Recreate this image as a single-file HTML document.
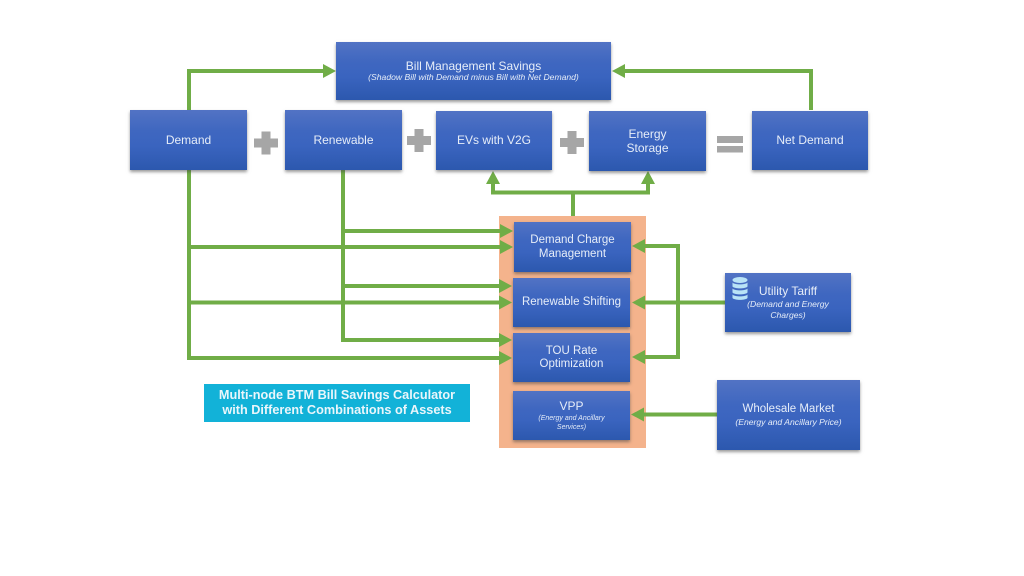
<!DOCTYPE html>
<html><head><meta charset="utf-8">
<style>
html,body{margin:0;padding:0;background:#fff;}
body{width:1024px;height:576px;overflow:hidden;position:relative;font-family:"Liberation Sans",sans-serif;}
.b{position:absolute;box-sizing:border-box;padding-top:1px;background:linear-gradient(180deg,#5273c4 0%,#3f67c0 35%,#3a64bf 60%,#2c58ae 100%);box-shadow:0 2px 3px rgba(70,70,70,.55);color:#e6edf8;text-align:center;display:flex;flex-direction:column;justify-content:center;align-items:center;font-size:12px;line-height:13.5px;}
.m{font-size:11.5px;}
.s{font-style:italic;font-size:8.6px;line-height:11px;}
svg{position:absolute;left:0;top:0;}
</style></head><body>
<div style="position:absolute;left:499px;top:216px;width:147px;height:232px;background:#f4b38c"></div>

<svg width="1024" height="576" viewBox="0 0 1024 576">
<g fill="none" stroke="#70ad47" stroke-width="4">
<path d="M189 110V71H328"/>
<path d="M811 110V71H620"/>
<path d="M189 170V358H505"/>
<path d="M189 247H505"/>
<path d="M189 302.500H505"/>
<path d="M343 170V340H505"/>
<path d="M343 231H505"/>
<path d="M343 286H505"/>
<path d="M573 216V192"/>
<path d="M493 180V192.500H648V180"/>
<path d="M640 246H678V357H640"/>
<path d="M725 302.500H640"/>
<path d="M717 414.500H640"/>
</g>
<g fill="#70ad47">
<path d="M336 71l-13-7v14z"/>
<path d="M612 71l13-7v14z"/>
<path d="M493 171l-7 13h14z"/>
<path d="M648 171l-7 13h14z"/>
<path d="M513 231l-13-7v14z"/>
<path d="M513 247l-13-7v14z"/>
<path d="M512 286l-13-7v14z"/>
<path d="M512 302.500l-13-7v14z"/>
<path d="M512 340l-13-7v14z"/>
<path d="M512 358l-13-7v14z"/>
<path d="M632 246l13-7v14z"/>
<path d="M632 302.500l13-7v14z"/>
<path d="M632 357l13-7v14z"/>
<path d="M631 414.500l13-7v14z"/>
</g>
<g fill="#a6a6a6">
<path d="M254 138.500h7.500v-7h9v7h7.500v9h-7.500v7h-9v-7h-7.500z"/>
<path d="M407 136h7.500v-7h9v7h7.500v9h-7.500v7h-9v-7h-7.500z"/>
<path d="M560 138h7.500v-7h9v7h7.500v9h-7.500v7h-9v-7h-7.500z"/>
<rect x="717" y="136" width="26" height="7"/>
<rect x="717" y="146" width="26" height="6.500"/>
</g>
</svg>

<div class="b" style="left:336px;top:42px;width:275px;height:58px;"><div>Bill Management Savings</div><div class="s" style="margin-top:-1px">(Shadow Bill with Demand minus Bill with Net Demand)</div></div>
<div class="b" style="left:130px;top:110px;width:117px;height:60px;">Demand</div>
<div class="b" style="left:285px;top:110px;width:117px;height:60px;">Renewable</div>
<div class="b" style="left:436px;top:111px;width:116px;height:59px;">EVs with V2G</div>
<div class="b" style="left:589px;top:111px;width:117px;height:60px;">Energy<br>Storage</div>
<div class="b" style="left:752px;top:111px;width:116px;height:59px;">Net Demand</div>
<div class="b m" style="left:514px;top:222px;width:117px;height:50px;">Demand Charge<br>Management</div>
<div class="b m" style="left:513px;top:278px;width:117px;height:49px;">Renewable Shifting</div>
<div class="b m" style="left:513px;top:333px;width:117px;height:49px;">TOU Rate<br>Optimization</div>
<div class="b" style="left:513px;top:391px;width:117px;height:49px;"><div>VPP</div><div class="s" style="font-size:7px;line-height:9px;">(Energy and Ancillary<br>Services)</div></div>
<div class="b" style="left:725px;top:273px;width:126px;height:59px;"><div>Utility Tariff</div><div class="s">(Demand and Energy<br>Charges)</div></div>
<div class="b m" style="left:717px;top:380px;width:143px;height:70px;"><div>Wholesale Market</div><div class="s">(Energy and Ancillary Price)</div></div>

<svg width="1024" height="576" viewBox="0 0 1024 576">
<g fill="#b9e3f7">
<ellipse cx="740" cy="280" rx="7.500" ry="3"/>
<path d="M732.500 282.500c2 2.500 13 2.500 15 0v4c-2 2.500-13 2.500-15 0z"/>
<path d="M732.500 288.500c2 2.500 13 2.500 15 0v4c-2 2.500-13 2.500-15 0z"/>
<path d="M732.500 294.500c2 2.500 13 2.500 15 0v3.500c-2 2.500-13 2.500-15 0z"/>
</g>
</svg>

<div style="position:absolute;left:204px;top:384px;width:266px;height:38px;background:#12b2d8;color:#eaf6fb;font-weight:bold;font-size:12.700px;line-height:15px;text-align:center;display:flex;align-items:center;justify-content:center;">Multi-node BTM Bill Savings Calculator<br>with Different Combinations of Assets</div>
</body></html>
